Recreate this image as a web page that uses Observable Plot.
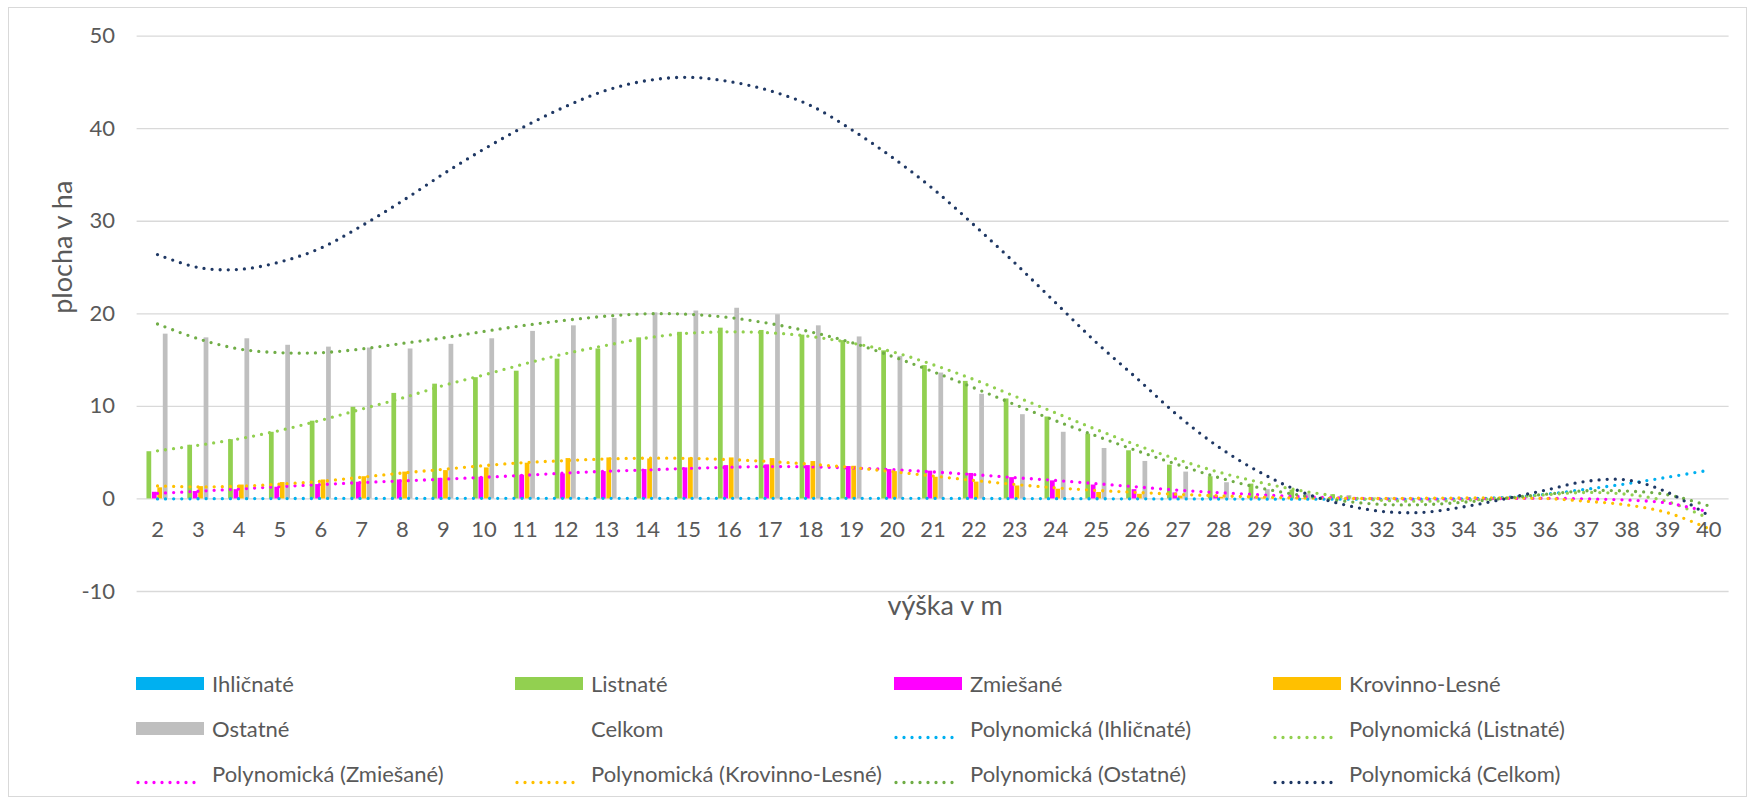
<!DOCTYPE html>
<html>
<head>
<meta charset="utf-8">
<script src="https://cdn.jsdelivr.net/npm/d3@7"></script>
<script src="https://cdn.jsdelivr.net/npm/@observablehq/plot@0.6"></script>
<style>
  html, body { margin: 0; padding: 0; background: #fff; }
  #wrap { position: relative; width: 1756px; height: 803px; overflow: hidden; font-family: Lato, "Open Sans", sans-serif; color: #595959; }
  #frame { position: absolute; left: 8px; top: 7px; width: 1739px; height: 790px; border: 1px solid #d9d9d9; box-sizing: border-box; }
  #chart { position: absolute; left: 0; top: 0; }
  .lg { position: absolute; display: flex; align-items: center; height: 26px; font-size: 22px; white-space: nowrap; }
  .sw { width: 68px; height: 13px; margin-right: 8px; flex: none; }
</style>
</head>
<body>
<div id="wrap">
  <div id="frame"></div>
  <div id="chart"></div>
  <div id="legend"></div>
</div>
<script>
// ---- data ----
const categories = [2,3,4,5,6,7,8,9,10,11,12,13,14,15,16,17,18,19,20,21,22,23,24,25,26,27,28,29,30,31,32,33,34,35,36,37,38,39,40];
const yTicks = [-10, 0, 10, 20, 30, 40, 50];

const ihlicnate = [0,0,0,0,0,0,0,0,0,0,0,0,0,0,0,0,0,0,0,0,0,0,0,0,0,0,0,0,0,0,0,0,0,0,0,0,0,0,0];
const listnate  = [5.1,5.8,6.4,7.2,8.4,9.9,11.4,12.4,13.1,13.8,15.1,16.2,17.4,18.0,18.45,18.2,17.7,17.1,16.0,14.4,12.7,10.8,8.85,7.0,5.2,3.65,2.4,1.6,0.95,0.45,0.1,0.05,0,0,0,0,0,0,0];
const zmiesane  = [0.72,0.8,1.0,1.26,1.55,1.8,2.05,2.23,2.34,2.56,2.7,2.95,3.17,3.35,3.6,3.68,3.6,3.5,3.17,3.0,2.75,2.3,1.95,1.5,1.0,0.65,0.33,0.2,0.1,0.05,0,0,0,0,0,0,0,0,0];
const krovinno  = [1.2,1.33,1.5,1.77,2.05,2.4,2.9,3.06,3.35,3.86,4.36,4.43,4.32,4.43,4.43,4.36,4.04,3.53,2.95,2.34,1.82,1.4,1.05,0.7,0.5,0.3,0.18,0.1,0.05,0.02,0,0,0,0,0,0,0,0,0];
const ostatne   = [17.8,17.4,17.3,16.6,16.4,16.3,16.2,16.7,17.3,18.1,18.7,19.5,20.1,20.3,20.6,19.9,18.7,17.5,15.4,13.6,11.3,9.1,7.2,5.45,4.05,2.9,1.75,1.0,0.54,0.36,0.1,0.05,0,0,0,0,0,0,0];

// polynomial trendline values at each category
const trendIhlicnate = [0.0,0.02,0.03,0.04,0.05,0.05,0.06,0.06,0.07,0.07,0.07,0.07,0.07,0.07,0.07,0.07,0.07,0.07,0.07,0.06,0.05,0.04,0.03,0.02,0.01,0.0,-0.01,-0.02,-0.03,-0.03,-0.03,-0.02,0.02,0.15,0.5,1.05,1.65,2.35,3.1];
const trendListnate  = [5.2,5.8,6.5,7.4,8.5,9.7,10.9,12.25,13.4,14.6,15.7,16.6,17.4,17.9,18.05,17.95,17.55,16.85,15.9,14.5,12.9,11.1,9.3,7.5,5.8,4.25,2.9,1.8,0.9,0.25,-0.15,-0.25,-0.15,0.1,0.45,0.7,0.5,-0.3,-2.1];
const trendZmiesane  = [0.6,0.83,1.08,1.33,1.55,1.77,1.95,2.13,2.34,2.56,2.8,2.99,3.13,3.3,3.42,3.5,3.46,3.35,3.17,2.92,2.63,2.3,2.0,1.65,1.3,0.95,0.68,0.45,0.25,0.1,0.02,0.0,0.02,0.05,0.07,0.0,-0.12,-0.45,-1.4];
const trendKrovinno  = [1.4,1.3,1.37,1.6,1.9,2.35,2.8,3.2,3.6,3.93,4.14,4.32,4.4,4.38,4.25,4.04,3.75,3.4,2.95,2.47,2.0,1.57,1.2,0.92,0.7,0.5,0.34,0.2,0.1,0.05,0.05,0.08,0.1,0.1,0.05,-0.25,-0.65,-1.5,-3.2];
const trendOstatne   = [18.9,17.3,16.2,15.8,15.8,16.2,16.8,17.4,18.1,18.75,19.3,19.75,20.0,19.95,19.6,18.95,18.05,16.9,15.4,13.75,12.0,10.2,8.45,6.8,5.2,3.7,2.3,1.2,0.4,-0.2,-0.6,-0.62,-0.35,0.07,0.5,0.88,0.85,0.45,-0.75];
const trendCelkom    = [26.4,25.0,24.8,25.6,27.1,29.5,32.2,35.1,37.8,40.25,42.4,44.15,45.2,45.55,45.1,44.1,42.5,39.9,36.9,33.5,29.6,25.5,21.2,16.9,13.0,9.0,5.6,2.9,0.8,-0.55,-1.35,-1.45,-0.85,0.0,0.95,1.9,2.05,0.7,-1.8];

const seriesNames = ["Ihličnaté", "Listnaté", "Zmiešané", "Krovinno-Lesné", "Ostatné", "Celkom"];
const barColors = {"Ihličnaté": "#00B0F0", "Listnaté": "#92D050", "Zmiešané": "#FF00FF", "Krovinno-Lesné": "#FFC000", "Ostatné": "#BFBFBF"};
const trendColors = {"Ihličnaté": "#00B0F0", "Listnaté": "#92D050", "Zmiešané": "#FF00FF", "Krovinno-Lesné": "#FFC000", "Ostatné": "#70AD47", "Celkom": "#1F3864"};

// ---- derived tables ----
const barSeries = [["Ihličnaté", ihlicnate], ["Listnaté", listnate], ["Zmiešané", zmiesane], ["Krovinno-Lesné", krovinno], ["Ostatné", ostatne]];
const nSlots = seriesNames.length;          // Celkom keeps an (unfilled) slot
const groupWidth = 0.8;
const slotW = groupWidth / nSlots;
const barRows = [];
barSeries.forEach(([name, vals]) => {
  const si = seriesNames.indexOf(name);
  vals.forEach((v, k) => barRows.push({c: categories[k], v, s: name, i: si}));
});
const trendSeries = [["Ihličnaté", trendIhlicnate], ["Listnaté", trendListnate], ["Zmiešané", trendZmiesane], ["Krovinno-Lesné", trendKrovinno], ["Ostatné", trendOstatne], ["Celkom", trendCelkom]];
const trendRows = [];
trendSeries.forEach(([name, vals]) => vals.forEach((v, k) => trendRows.push({c: categories[k], v, s: name})));

const font = "Lato, 'Open Sans', sans-serif";
const chart = Plot.plot({
  width: 1756,
  height: 640,
  marginLeft: 136.6,
  marginRight: 27.4,
  marginTop: 35.6,
  marginBottom: 49,
  x: {type: "linear", domain: [categories[0] - 0.5, categories[categories.length - 1] + 0.5], axis: null},
  y: {domain: [yTicks[0], yTicks[yTicks.length - 1]], axis: null},
  color: {type: "identity"},
  style: {fontFamily: font, fontSize: "22px", color: "#595959", background: "transparent", overflow: "visible"},
  marks: [
    Plot.gridY(yTicks, {stroke: "#d9d9d9", strokeOpacity: 1, strokeWidth: 1.3}),
    Plot.axisY(yTicks, {tickSize: 0, tickPadding: 22, fontSize: 22, fill: "#595959", label: null, tickFormat: d => String(d)}),
    Plot.rectY(barRows, {
      x1: d => d.c + (d.i - nSlots / 2) * slotW,
      x2: d => d.c + (d.i - nSlots / 2 + 1) * slotW,
      y1: () => 0,
      y2: "v",
      fill: d => barColors[d.s],
      insetLeft: 0.35, insetRight: 0.35
    }),
    Plot.line(trendRows, {
      x: "c", y: "v", z: "s",
      stroke: d => trendColors[d.s],
      strokeWidth: 3.3,
      strokeDasharray: "0 8.1",
      strokeLinecap: "round",
      curve: "catmull-rom"
    }),
    Plot.text(categories, {x: d => d, y: () => 0, dy: 31.5, text: d => String(d), fontSize: 22, fill: "#595959"}),
    Plot.text(["plocha v ha"], {frameAnchor: "left", dx: -74, rotate: -90, text: d => d, fontSize: 27, fill: "#595959"}),
    Plot.text(["výška v m"], {frameAnchor: "bottom", dy: 23, dx: 12, text: d => d, fontSize: 27, fill: "#595959"})
  ]
});
document.getElementById("chart").appendChild(chart);

// ---- legend ----
const legendItems = [
  {label: "Ihličnaté", kind: "bar", color: barColors["Ihličnaté"]},
  {label: "Listnaté", kind: "bar", color: barColors["Listnaté"]},
  {label: "Zmiešané", kind: "bar", color: barColors["Zmiešané"]},
  {label: "Krovinno-Lesné", kind: "bar", color: barColors["Krovinno-Lesné"]},
  {label: "Ostatné", kind: "bar", color: barColors["Ostatné"]},
  {label: "Celkom", kind: "none"},
  {label: "Polynomická (Ihličnaté)", kind: "dot", color: trendColors["Ihličnaté"]},
  {label: "Polynomická (Listnaté)", kind: "dot", color: trendColors["Listnaté"]},
  {label: "Polynomická (Zmiešané)", kind: "dot", color: trendColors["Zmiešané"]},
  {label: "Polynomická (Krovinno-Lesné)", kind: "dot", color: trendColors["Krovinno-Lesné"]},
  {label: "Polynomická (Ostatné)", kind: "dot", color: trendColors["Ostatné"]},
  {label: "Polynomická (Celkom)", kind: "dot", color: trendColors["Celkom"]}
];
const colX = [136, 515, 894, 1273];
const rowY = [683, 728, 773];
const legend = document.getElementById("legend");
legendItems.forEach((it, k) => {
  const el = document.createElement("div");
  el.className = "lg";
  el.style.left = colX[k % 4] + "px";
  el.style.top = (rowY[Math.floor(k / 4)] - 13) + "px";
  const sw = document.createElement("div");
  sw.className = "sw";
  if (it.kind === "bar") sw.style.background = it.color;
  if (it.kind === "dot") {
    sw.innerHTML = `<svg width="68" height="13"><line x1="2" x2="66" y1="6.5" y2="6.5" stroke="${it.color}" stroke-width="3.3" stroke-linecap="round" stroke-dasharray="0 8"/></svg>`;
  }
  el.appendChild(sw);
  const t = document.createElement("span");
  t.textContent = it.label;
  el.appendChild(t);
  legend.appendChild(el);
});
</script>
</body>
</html>
